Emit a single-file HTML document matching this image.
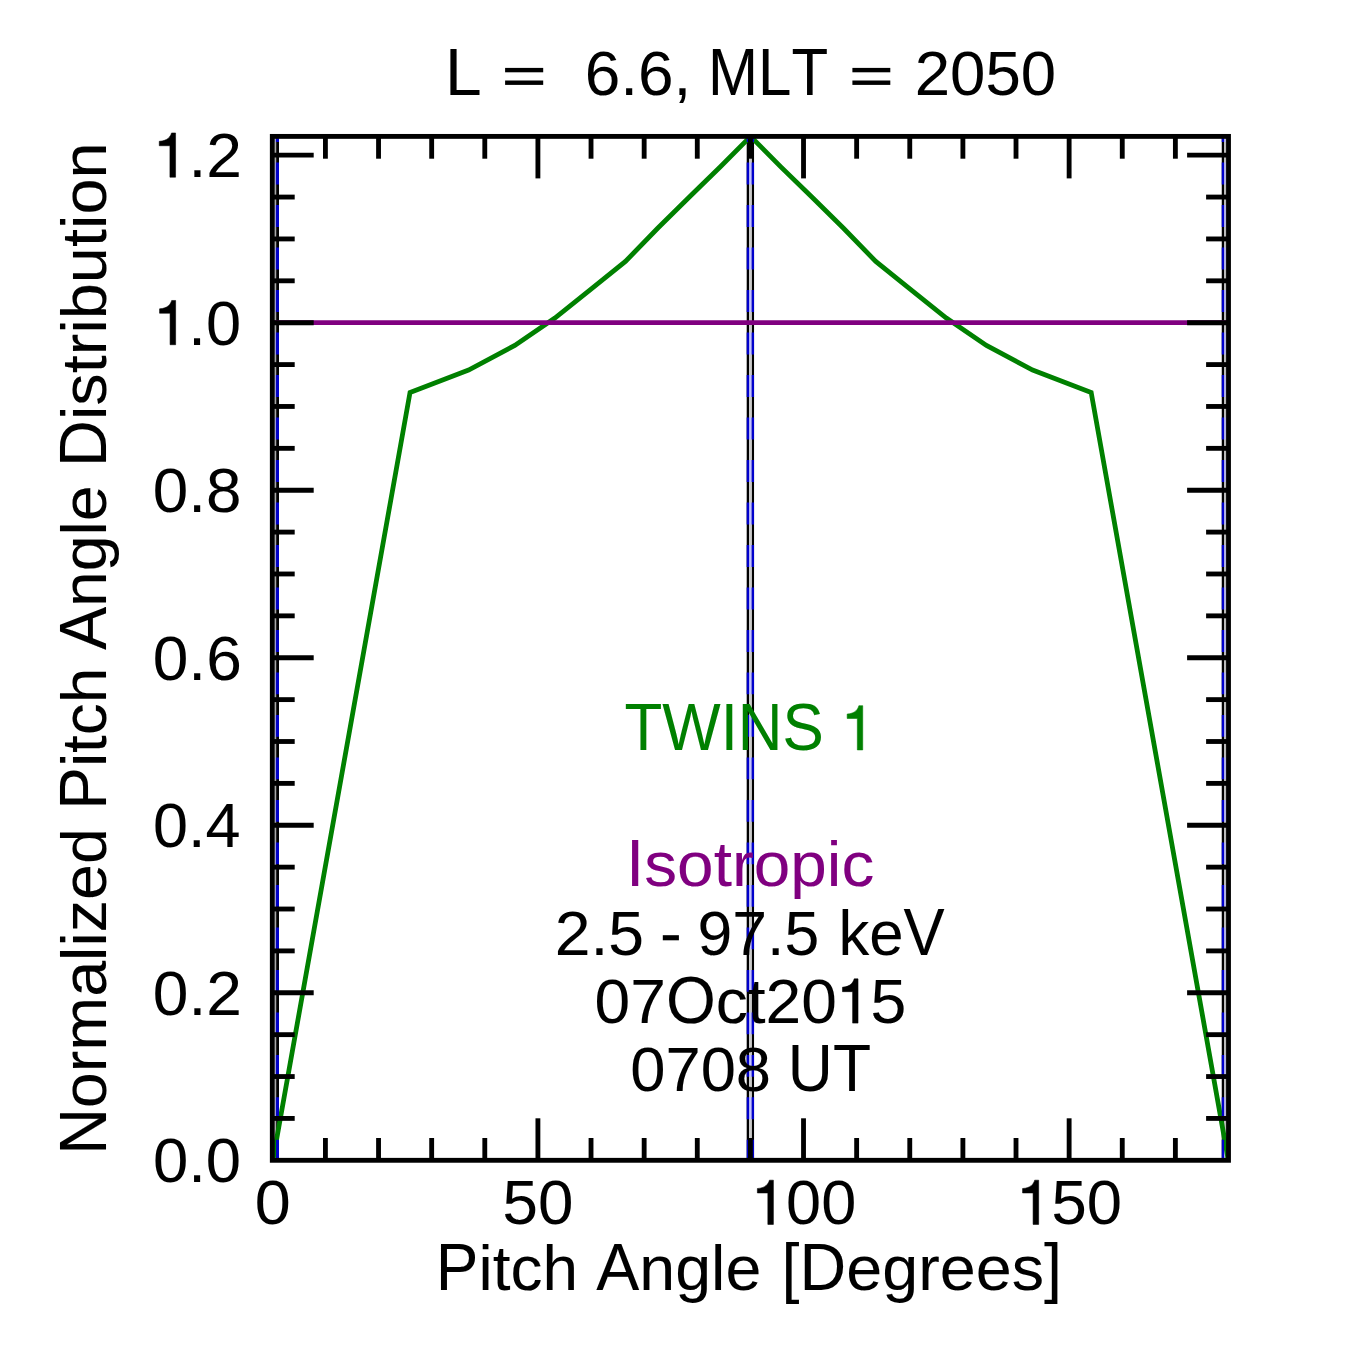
<!DOCTYPE html>
<html><head><meta charset="utf-8"><style>
html,body{margin:0;padding:0;background:#fff;overflow:hidden;width:1365px;height:1365px;}
svg{display:block;}
text{font-family:"Liberation Sans",sans-serif;stroke-width:0.55px;}
</style></head><body>
<svg width="1365" height="1365" viewBox="0 0 1365 1365">
<rect width="1365" height="1365" fill="#fff"/>
<defs><clipPath id="c"><rect x="272.3" y="136.4" width="956.2" height="1023.9"/></clipPath></defs>
<g clip-path="url(#c)">
<line x1="277.55" y1="1160.3" x2="277.55" y2="136.4" stroke="#000" stroke-width="2.9"/>
<line x1="747.9" y1="1160.3" x2="747.9" y2="136.4" stroke="#000" stroke-width="2.4"/>
<line x1="752.85" y1="1160.3" x2="752.85" y2="136.4" stroke="#000" stroke-width="2.4"/>
<line x1="1222.9" y1="1160.3" x2="1222.9" y2="136.4" stroke="#000" stroke-width="2.3"/>
<rect x="749.1" y="136.4" width="2.55" height="1023.9" fill="#cacaca"/>
<line x1="750.375" y1="120.1" x2="750.375" y2="1160.3" stroke="#c4c4ff" stroke-width="2.55" stroke-dasharray="21.9 20.59"/>
<rect x="274.75" y="136.4" width="1.35" height="1023.9" fill="#a8a8a8"/>
<line x1="275.425" y1="120.1" x2="275.425" y2="1160.3" stroke="#9c9cd8" stroke-width="1.35" stroke-dasharray="21.9 20.59"/>
<rect x="1224.05" y="136.4" width="2.0" height="1023.9" fill="#b8b8b8"/>
<line x1="1225.05" y1="120.1" x2="1225.05" y2="1160.3" stroke="#b4b4e4" stroke-width="2.0" stroke-dasharray="21.9 20.59"/>
<polyline points="272.85,1160.30 410.03,392.39 468.57,370.11 514.77,345.48 554.88,318.01 591.35,288.78 625.44,261.47 657.93,227.97 689.36,196.98 720.13,167.07 750.60,136.40 781.07,167.07 811.84,196.98 843.27,227.97 875.76,261.47 909.85,288.78 946.32,318.01 986.43,345.48 1032.63,370.11 1091.17,392.39 1228.35,1160.30" fill="none" stroke="#008000" stroke-width="4.8" stroke-linejoin="miter"/>
<line x1="272.3" y1="322.70" x2="1228.5" y2="322.70" stroke="#800080" stroke-width="4.8"/>
<line x1="277.55" y1="120.1" x2="277.55" y2="1160.3" stroke="#0000cc" stroke-width="2.9" stroke-dasharray="21.9 20.59"/>
<line x1="747.9" y1="120.1" x2="747.9" y2="1160.3" stroke="#0000cc" stroke-width="2.4" stroke-dasharray="21.9 20.59"/>
<line x1="752.85" y1="120.1" x2="752.85" y2="1160.3" stroke="#0000cc" stroke-width="2.4" stroke-dasharray="21.9 20.59"/>
<line x1="1222.9" y1="120.1" x2="1222.9" y2="1160.3" stroke="#0000cc" stroke-width="2.3" stroke-dasharray="21.9 20.59"/>
</g>
<rect x="272.3" y="136.4" width="956.2" height="1023.9" fill="none" stroke="#000" stroke-width="4.85"/>
<line x1="325.42" y1="1160.3" x2="325.42" y2="1138.0" stroke="#000" stroke-width="4.85"/>
<line x1="325.42" y1="136.4" x2="325.42" y2="158.70000000000002" stroke="#000" stroke-width="4.85"/>
<line x1="378.54" y1="1160.3" x2="378.54" y2="1138.0" stroke="#000" stroke-width="4.85"/>
<line x1="378.54" y1="136.4" x2="378.54" y2="158.70000000000002" stroke="#000" stroke-width="4.85"/>
<line x1="431.67" y1="1160.3" x2="431.67" y2="1138.0" stroke="#000" stroke-width="4.85"/>
<line x1="431.67" y1="136.4" x2="431.67" y2="158.70000000000002" stroke="#000" stroke-width="4.85"/>
<line x1="484.79" y1="1160.3" x2="484.79" y2="1138.0" stroke="#000" stroke-width="4.85"/>
<line x1="484.79" y1="136.4" x2="484.79" y2="158.70000000000002" stroke="#000" stroke-width="4.85"/>
<line x1="537.91" y1="1160.3" x2="537.91" y2="1118.3" stroke="#000" stroke-width="4.85"/>
<line x1="537.91" y1="136.4" x2="537.91" y2="178.4" stroke="#000" stroke-width="4.85"/>
<line x1="591.03" y1="1160.3" x2="591.03" y2="1138.0" stroke="#000" stroke-width="4.85"/>
<line x1="591.03" y1="136.4" x2="591.03" y2="158.70000000000002" stroke="#000" stroke-width="4.85"/>
<line x1="644.16" y1="1160.3" x2="644.16" y2="1138.0" stroke="#000" stroke-width="4.85"/>
<line x1="644.16" y1="136.4" x2="644.16" y2="158.70000000000002" stroke="#000" stroke-width="4.85"/>
<line x1="697.28" y1="1160.3" x2="697.28" y2="1138.0" stroke="#000" stroke-width="4.85"/>
<line x1="697.28" y1="136.4" x2="697.28" y2="158.70000000000002" stroke="#000" stroke-width="4.85"/>
<line x1="750.40" y1="1160.3" x2="750.40" y2="1138.0" stroke="#000" stroke-width="4.85"/>
<line x1="750.40" y1="136.4" x2="750.40" y2="158.70000000000002" stroke="#000" stroke-width="4.85"/>
<line x1="803.52" y1="1160.3" x2="803.52" y2="1118.3" stroke="#000" stroke-width="4.85"/>
<line x1="803.52" y1="136.4" x2="803.52" y2="178.4" stroke="#000" stroke-width="4.85"/>
<line x1="856.64" y1="1160.3" x2="856.64" y2="1138.0" stroke="#000" stroke-width="4.85"/>
<line x1="856.64" y1="136.4" x2="856.64" y2="158.70000000000002" stroke="#000" stroke-width="4.85"/>
<line x1="909.77" y1="1160.3" x2="909.77" y2="1138.0" stroke="#000" stroke-width="4.85"/>
<line x1="909.77" y1="136.4" x2="909.77" y2="158.70000000000002" stroke="#000" stroke-width="4.85"/>
<line x1="962.89" y1="1160.3" x2="962.89" y2="1138.0" stroke="#000" stroke-width="4.85"/>
<line x1="962.89" y1="136.4" x2="962.89" y2="158.70000000000002" stroke="#000" stroke-width="4.85"/>
<line x1="1016.01" y1="1160.3" x2="1016.01" y2="1138.0" stroke="#000" stroke-width="4.85"/>
<line x1="1016.01" y1="136.4" x2="1016.01" y2="158.70000000000002" stroke="#000" stroke-width="4.85"/>
<line x1="1069.13" y1="1160.3" x2="1069.13" y2="1118.3" stroke="#000" stroke-width="4.85"/>
<line x1="1069.13" y1="136.4" x2="1069.13" y2="178.4" stroke="#000" stroke-width="4.85"/>
<line x1="1122.26" y1="1160.3" x2="1122.26" y2="1138.0" stroke="#000" stroke-width="4.85"/>
<line x1="1122.26" y1="136.4" x2="1122.26" y2="158.70000000000002" stroke="#000" stroke-width="4.85"/>
<line x1="1175.38" y1="1160.3" x2="1175.38" y2="1138.0" stroke="#000" stroke-width="4.85"/>
<line x1="1175.38" y1="136.4" x2="1175.38" y2="158.70000000000002" stroke="#000" stroke-width="4.85"/>
<line x1="272.3" y1="1118.42" x2="294.7" y2="1118.42" stroke="#000" stroke-width="4.85"/>
<line x1="1228.5" y1="1118.42" x2="1206.1" y2="1118.42" stroke="#000" stroke-width="4.85"/>
<line x1="272.3" y1="1076.54" x2="294.7" y2="1076.54" stroke="#000" stroke-width="4.85"/>
<line x1="1228.5" y1="1076.54" x2="1206.1" y2="1076.54" stroke="#000" stroke-width="4.85"/>
<line x1="272.3" y1="1034.66" x2="294.7" y2="1034.66" stroke="#000" stroke-width="4.85"/>
<line x1="1228.5" y1="1034.66" x2="1206.1" y2="1034.66" stroke="#000" stroke-width="4.85"/>
<line x1="272.3" y1="992.78" x2="313.7" y2="992.78" stroke="#000" stroke-width="4.85"/>
<line x1="1228.5" y1="992.78" x2="1187.1" y2="992.78" stroke="#000" stroke-width="4.85"/>
<line x1="272.3" y1="950.90" x2="294.7" y2="950.90" stroke="#000" stroke-width="4.85"/>
<line x1="1228.5" y1="950.90" x2="1206.1" y2="950.90" stroke="#000" stroke-width="4.85"/>
<line x1="272.3" y1="909.02" x2="294.7" y2="909.02" stroke="#000" stroke-width="4.85"/>
<line x1="1228.5" y1="909.02" x2="1206.1" y2="909.02" stroke="#000" stroke-width="4.85"/>
<line x1="272.3" y1="867.14" x2="294.7" y2="867.14" stroke="#000" stroke-width="4.85"/>
<line x1="1228.5" y1="867.14" x2="1206.1" y2="867.14" stroke="#000" stroke-width="4.85"/>
<line x1="272.3" y1="825.26" x2="313.7" y2="825.26" stroke="#000" stroke-width="4.85"/>
<line x1="1228.5" y1="825.26" x2="1187.1" y2="825.26" stroke="#000" stroke-width="4.85"/>
<line x1="272.3" y1="783.38" x2="294.7" y2="783.38" stroke="#000" stroke-width="4.85"/>
<line x1="1228.5" y1="783.38" x2="1206.1" y2="783.38" stroke="#000" stroke-width="4.85"/>
<line x1="272.3" y1="741.50" x2="294.7" y2="741.50" stroke="#000" stroke-width="4.85"/>
<line x1="1228.5" y1="741.50" x2="1206.1" y2="741.50" stroke="#000" stroke-width="4.85"/>
<line x1="272.3" y1="699.62" x2="294.7" y2="699.62" stroke="#000" stroke-width="4.85"/>
<line x1="1228.5" y1="699.62" x2="1206.1" y2="699.62" stroke="#000" stroke-width="4.85"/>
<line x1="272.3" y1="657.74" x2="313.7" y2="657.74" stroke="#000" stroke-width="4.85"/>
<line x1="1228.5" y1="657.74" x2="1187.1" y2="657.74" stroke="#000" stroke-width="4.85"/>
<line x1="272.3" y1="615.86" x2="294.7" y2="615.86" stroke="#000" stroke-width="4.85"/>
<line x1="1228.5" y1="615.86" x2="1206.1" y2="615.86" stroke="#000" stroke-width="4.85"/>
<line x1="272.3" y1="573.98" x2="294.7" y2="573.98" stroke="#000" stroke-width="4.85"/>
<line x1="1228.5" y1="573.98" x2="1206.1" y2="573.98" stroke="#000" stroke-width="4.85"/>
<line x1="272.3" y1="532.10" x2="294.7" y2="532.10" stroke="#000" stroke-width="4.85"/>
<line x1="1228.5" y1="532.10" x2="1206.1" y2="532.10" stroke="#000" stroke-width="4.85"/>
<line x1="272.3" y1="490.22" x2="313.7" y2="490.22" stroke="#000" stroke-width="4.85"/>
<line x1="1228.5" y1="490.22" x2="1187.1" y2="490.22" stroke="#000" stroke-width="4.85"/>
<line x1="272.3" y1="448.34" x2="294.7" y2="448.34" stroke="#000" stroke-width="4.85"/>
<line x1="1228.5" y1="448.34" x2="1206.1" y2="448.34" stroke="#000" stroke-width="4.85"/>
<line x1="272.3" y1="406.46" x2="294.7" y2="406.46" stroke="#000" stroke-width="4.85"/>
<line x1="1228.5" y1="406.46" x2="1206.1" y2="406.46" stroke="#000" stroke-width="4.85"/>
<line x1="272.3" y1="364.58" x2="294.7" y2="364.58" stroke="#000" stroke-width="4.85"/>
<line x1="1228.5" y1="364.58" x2="1206.1" y2="364.58" stroke="#000" stroke-width="4.85"/>
<line x1="272.3" y1="322.70" x2="313.7" y2="322.70" stroke="#000" stroke-width="4.85"/>
<line x1="1228.5" y1="322.70" x2="1187.1" y2="322.70" stroke="#000" stroke-width="4.85"/>
<line x1="272.3" y1="280.82" x2="294.7" y2="280.82" stroke="#000" stroke-width="4.85"/>
<line x1="1228.5" y1="280.82" x2="1206.1" y2="280.82" stroke="#000" stroke-width="4.85"/>
<line x1="272.3" y1="238.94" x2="294.7" y2="238.94" stroke="#000" stroke-width="4.85"/>
<line x1="1228.5" y1="238.94" x2="1206.1" y2="238.94" stroke="#000" stroke-width="4.85"/>
<line x1="272.3" y1="197.06" x2="294.7" y2="197.06" stroke="#000" stroke-width="4.85"/>
<line x1="1228.5" y1="197.06" x2="1206.1" y2="197.06" stroke="#000" stroke-width="4.85"/>
<line x1="272.3" y1="155.18" x2="313.7" y2="155.18" stroke="#000" stroke-width="4.85"/>
<line x1="1228.5" y1="155.18" x2="1187.1" y2="155.18" stroke="#000" stroke-width="4.85"/>
<text transform="translate(445.12,95.02) scale(0.099662,0.1)" font-size="662.0" fill="#000" stroke="#000" stroke-width="5.50">L</text>
<rect x="505.1" y="67.9" width="38.1" height="4.4"/><rect x="505.1" y="80.5" width="38.1" height="4.4"/>
<text transform="translate(584.63,95.02) scale(0.101002,0.1)" font-size="633.0" fill="#000" stroke="#000" stroke-width="5.50">6</text>
<text transform="translate(620.19,95.02) scale(0.101002,0.1)" font-size="633.0" fill="#000" stroke="#000" stroke-width="5.50">.</text>
<text transform="translate(637.95,95.02) scale(0.101002,0.1)" font-size="633.0" fill="#000" stroke="#000" stroke-width="5.50">6</text>
<text transform="translate(673.51,95.02) scale(0.101002,0.1)" font-size="633.0" fill="#000" stroke="#000" stroke-width="5.50">,</text>
<text transform="translate(708.05,95.02) scale(0.090673,0.1)" font-size="662.0" fill="#000" stroke="#000" stroke-width="5.50">M</text>
<text transform="translate(758.05,95.02) scale(0.090673,0.1)" font-size="662.0" fill="#000" stroke="#000" stroke-width="5.50">L</text>
<text transform="translate(791.44,95.02) scale(0.090673,0.1)" font-size="662.0" fill="#000" stroke="#000" stroke-width="5.50">T</text>
<rect x="852.4" y="67.9" width="37.9" height="4.4"/><rect x="852.4" y="80.5" width="37.9" height="4.4"/>
<text transform="translate(914.78,95.02) scale(0.100361,0.1)" font-size="633.0" fill="#000" stroke="#000" stroke-width="5.50">2</text>
<text transform="translate(950.11,95.02) scale(0.100361,0.1)" font-size="633.0" fill="#000" stroke="#000" stroke-width="5.50">0</text>
<text transform="translate(985.44,95.02) scale(0.100361,0.1)" font-size="633.0" fill="#000" stroke="#000" stroke-width="5.50">5</text>
<text transform="translate(1020.77,95.02) scale(0.100361,0.1)" font-size="633.0" fill="#000" stroke="#000" stroke-width="5.50">0</text>
<text transform="translate(435.87,1289.62) scale(0.096557,0.1)" font-size="662.0" fill="#000" stroke="#000" stroke-width="5.50">P</text>
<text transform="translate(478.51,1289.62) scale(0.101853,0.1)" font-size="627.6" fill="#000" stroke="#000" stroke-width="5.50">i</text>
<text transform="translate(492.71,1289.62) scale(0.101853,0.1)" font-size="627.6" fill="#000" stroke="#000" stroke-width="5.50">t</text>
<text transform="translate(510.47,1289.62) scale(0.101853,0.1)" font-size="627.6" fill="#000" stroke="#000" stroke-width="5.50">c</text>
<text transform="translate(542.43,1289.62) scale(0.101853,0.1)" font-size="627.6" fill="#000" stroke="#000" stroke-width="5.50">h</text>
<text transform="translate(596.15,1289.62) scale(0.097538,0.1)" font-size="662.0" fill="#000" stroke="#000" stroke-width="5.50">A</text>
<text transform="translate(639.22,1289.62) scale(0.102888,0.1)" font-size="627.6" fill="#000" stroke="#000" stroke-width="5.50">n</text>
<text transform="translate(675.13,1289.62) scale(0.102888,0.1)" font-size="627.6" fill="#000" stroke="#000" stroke-width="5.50">g</text>
<text transform="translate(711.04,1289.62) scale(0.102888,0.1)" font-size="627.6" fill="#000" stroke="#000" stroke-width="5.50">l</text>
<text transform="translate(725.38,1289.62) scale(0.102888,0.1)" font-size="627.6" fill="#000" stroke="#000" stroke-width="5.50">e</text>
<text transform="translate(781.56,1289.62) scale(0.097724,0.1)" font-size="662.0" fill="#000" stroke="#000" stroke-width="5.50">[</text>
<text transform="translate(799.54,1289.62) scale(0.097724,0.1)" font-size="662.0" fill="#000" stroke="#000" stroke-width="5.50">D</text>
<text transform="translate(846.26,1289.62) scale(0.103084,0.1)" font-size="627.6" fill="#000" stroke="#000" stroke-width="5.50">e</text>
<text transform="translate(882.24,1289.62) scale(0.103084,0.1)" font-size="627.6" fill="#000" stroke="#000" stroke-width="5.50">g</text>
<text transform="translate(918.21,1289.62) scale(0.103084,0.1)" font-size="627.6" fill="#000" stroke="#000" stroke-width="5.50">r</text>
<text transform="translate(939.76,1289.62) scale(0.103084,0.1)" font-size="627.6" fill="#000" stroke="#000" stroke-width="5.50">e</text>
<text transform="translate(975.74,1289.62) scale(0.103084,0.1)" font-size="627.6" fill="#000" stroke="#000" stroke-width="5.50">e</text>
<text transform="translate(1011.72,1289.62) scale(0.103084,0.1)" font-size="627.6" fill="#000" stroke="#000" stroke-width="5.50">s</text>
<text transform="translate(1044.06,1289.62) scale(0.097724,0.1)" font-size="662.0" fill="#000" stroke="#000" stroke-width="5.50">]</text>
<g transform="rotate(-90)"><text transform="translate(-1154.83,106.32) scale(0.097621,0.1)" font-size="662.0" fill="#000" stroke="#000" stroke-width="5.50">N</text>
<text transform="translate(-1108.16,106.32) scale(0.102975,0.1)" font-size="627.6" fill="#000" stroke="#000" stroke-width="5.50">o</text>
<text transform="translate(-1072.21,106.32) scale(0.102975,0.1)" font-size="627.6" fill="#000" stroke="#000" stroke-width="5.50">r</text>
<text transform="translate(-1050.69,106.32) scale(0.102975,0.1)" font-size="627.6" fill="#000" stroke="#000" stroke-width="5.50">m</text>
<text transform="translate(-996.86,106.32) scale(0.102975,0.1)" font-size="627.6" fill="#000" stroke="#000" stroke-width="5.50">a</text>
<text transform="translate(-960.92,106.32) scale(0.102975,0.1)" font-size="627.6" fill="#000" stroke="#000" stroke-width="5.50">l</text>
<text transform="translate(-946.56,106.32) scale(0.102975,0.1)" font-size="627.6" fill="#000" stroke="#000" stroke-width="5.50">i</text>
<text transform="translate(-932.20,106.32) scale(0.102975,0.1)" font-size="627.6" fill="#000" stroke="#000" stroke-width="5.50">z</text>
<text transform="translate(-899.89,106.32) scale(0.102975,0.1)" font-size="627.6" fill="#000" stroke="#000" stroke-width="5.50">e</text>
<text transform="translate(-863.95,106.32) scale(0.102975,0.1)" font-size="627.6" fill="#000" stroke="#000" stroke-width="5.50">d</text>
<text transform="translate(-809.77,106.32) scale(0.096586,0.1)" font-size="662.0" fill="#000" stroke="#000" stroke-width="5.50">P</text>
<text transform="translate(-767.12,106.32) scale(0.101884,0.1)" font-size="627.6" fill="#000" stroke="#000" stroke-width="5.50">i</text>
<text transform="translate(-752.92,106.32) scale(0.101884,0.1)" font-size="627.6" fill="#000" stroke="#000" stroke-width="5.50">t</text>
<text transform="translate(-735.15,106.32) scale(0.101884,0.1)" font-size="627.6" fill="#000" stroke="#000" stroke-width="5.50">c</text>
<text transform="translate(-703.18,106.32) scale(0.101884,0.1)" font-size="627.6" fill="#000" stroke="#000" stroke-width="5.50">h</text>
<text transform="translate(-649.85,106.32) scale(0.097056,0.1)" font-size="662.0" fill="#000" stroke="#000" stroke-width="5.50">A</text>
<text transform="translate(-607.00,106.32) scale(0.102380,0.1)" font-size="627.6" fill="#000" stroke="#000" stroke-width="5.50">n</text>
<text transform="translate(-571.26,106.32) scale(0.102380,0.1)" font-size="627.6" fill="#000" stroke="#000" stroke-width="5.50">g</text>
<text transform="translate(-535.53,106.32) scale(0.102380,0.1)" font-size="627.6" fill="#000" stroke="#000" stroke-width="5.50">l</text>
<text transform="translate(-521.25,106.32) scale(0.102380,0.1)" font-size="627.6" fill="#000" stroke="#000" stroke-width="5.50">e</text>
<text transform="translate(-466.95,106.32) scale(0.097993,0.1)" font-size="662.0" fill="#000" stroke="#000" stroke-width="5.50">D</text>
<text transform="translate(-420.10,106.32) scale(0.103368,0.1)" font-size="627.6" fill="#000" stroke="#000" stroke-width="5.50">i</text>
<text transform="translate(-405.69,106.32) scale(0.103368,0.1)" font-size="627.6" fill="#000" stroke="#000" stroke-width="5.50">s</text>
<text transform="translate(-373.25,106.32) scale(0.103368,0.1)" font-size="627.6" fill="#000" stroke="#000" stroke-width="5.50">t</text>
<text transform="translate(-355.23,106.32) scale(0.103368,0.1)" font-size="627.6" fill="#000" stroke="#000" stroke-width="5.50">r</text>
<text transform="translate(-333.62,106.32) scale(0.103368,0.1)" font-size="627.6" fill="#000" stroke="#000" stroke-width="5.50">i</text>
<text transform="translate(-319.21,106.32) scale(0.103368,0.1)" font-size="627.6" fill="#000" stroke="#000" stroke-width="5.50">b</text>
<text transform="translate(-283.13,106.32) scale(0.103368,0.1)" font-size="627.6" fill="#000" stroke="#000" stroke-width="5.50">u</text>
<text transform="translate(-247.05,106.32) scale(0.103368,0.1)" font-size="627.6" fill="#000" stroke="#000" stroke-width="5.50">t</text>
<text transform="translate(-229.03,106.32) scale(0.103368,0.1)" font-size="627.6" fill="#000" stroke="#000" stroke-width="5.50">i</text>
<text transform="translate(-214.62,106.32) scale(0.103368,0.1)" font-size="627.6" fill="#000" stroke="#000" stroke-width="5.50">o</text>
<text transform="translate(-178.54,106.32) scale(0.103368,0.1)" font-size="627.6" fill="#000" stroke="#000" stroke-width="5.50">n</text></g>
<text transform="translate(624.38,749.93) scale(0.093533,0.1)" font-size="662.0" fill="#008000" stroke="#008000" stroke-width="5.50">T</text>
<text transform="translate(662.21,749.93) scale(0.093533,0.1)" font-size="662.0" fill="#008000" stroke="#008000" stroke-width="5.50">W</text>
<text transform="translate(720.65,749.93) scale(0.093533,0.1)" font-size="662.0" fill="#008000" stroke="#008000" stroke-width="5.50">I</text>
<text transform="translate(737.85,749.93) scale(0.093533,0.1)" font-size="662.0" fill="#008000" stroke="#008000" stroke-width="5.50">N</text>
<text transform="translate(782.57,749.93) scale(0.093533,0.1)" font-size="662.0" fill="#008000" stroke="#008000" stroke-width="5.50">S</text>
<path transform="translate(840.99,749.93) scale(0.06122,-0.06330)" d="M355 0L355 699L292 699C275 640 230 575 101 567L101 497L267 497L267 0Z" fill="#008000" stroke="#008000" stroke-width="8.984"/>
<text transform="translate(626.01,886.43) scale(0.099222,0.1)" font-size="662.0" fill="#800080" stroke="#800080" stroke-width="5.50">I</text>
<text transform="translate(644.26,886.43) scale(0.104665,0.1)" font-size="627.6" fill="#800080" stroke="#800080" stroke-width="5.50">s</text>
<text transform="translate(677.11,886.43) scale(0.104665,0.1)" font-size="627.6" fill="#800080" stroke="#800080" stroke-width="5.50">o</text>
<text transform="translate(713.64,886.43) scale(0.104665,0.1)" font-size="627.6" fill="#800080" stroke="#800080" stroke-width="5.50">t</text>
<text transform="translate(731.89,886.43) scale(0.104665,0.1)" font-size="627.6" fill="#800080" stroke="#800080" stroke-width="5.50">r</text>
<text transform="translate(753.76,886.43) scale(0.104665,0.1)" font-size="627.6" fill="#800080" stroke="#800080" stroke-width="5.50">o</text>
<text transform="translate(790.29,886.43) scale(0.104665,0.1)" font-size="627.6" fill="#800080" stroke="#800080" stroke-width="5.50">p</text>
<text transform="translate(826.82,886.43) scale(0.104665,0.1)" font-size="627.6" fill="#800080" stroke="#800080" stroke-width="5.50">i</text>
<text transform="translate(841.41,886.43) scale(0.104665,0.1)" font-size="627.6" fill="#800080" stroke="#800080" stroke-width="5.50">c</text>
<text transform="translate(554.64,954.93) scale(0.101578,0.1)" font-size="633.0" fill="#000" stroke="#000" stroke-width="5.50">2</text>
<text transform="translate(590.40,954.93) scale(0.101578,0.1)" font-size="633.0" fill="#000" stroke="#000" stroke-width="5.50">.</text>
<text transform="translate(608.27,954.93) scale(0.101578,0.1)" font-size="633.0" fill="#000" stroke="#000" stroke-width="5.50">5</text>
<rect x="662.8" y="935.2" width="16.1" height="5.1"/>
<text transform="translate(697.54,954.93) scale(0.098788,0.1)" font-size="633.0" fill="#000" stroke="#000" stroke-width="5.50">9</text>
<text transform="translate(732.32,954.93) scale(0.098788,0.1)" font-size="633.0" fill="#000" stroke="#000" stroke-width="5.50">7</text>
<text transform="translate(767.10,954.93) scale(0.098788,0.1)" font-size="633.0" fill="#000" stroke="#000" stroke-width="5.50">.</text>
<text transform="translate(784.47,954.93) scale(0.098788,0.1)" font-size="633.0" fill="#000" stroke="#000" stroke-width="5.50">5</text>
<text transform="translate(838.42,954.93) scale(0.098180,0.1)" font-size="627.6" fill="#000" stroke="#000" stroke-width="5.50">k</text>
<text transform="translate(869.23,954.93) scale(0.098180,0.1)" font-size="627.6" fill="#000" stroke="#000" stroke-width="5.50">e</text>
<text transform="translate(903.50,954.93) scale(0.093075,0.1)" font-size="662.0" fill="#000" stroke="#000" stroke-width="5.50">V</text>
<text transform="translate(594.57,1023.12) scale(0.101282,0.1)" font-size="633.0" fill="#000" stroke="#000" stroke-width="5.50">0</text>
<text transform="translate(630.23,1023.12) scale(0.101282,0.1)" font-size="633.0" fill="#000" stroke="#000" stroke-width="5.50">7</text>
<text transform="translate(665.88,1023.12) scale(0.096845,0.1)" font-size="662.0" fill="#000" stroke="#000" stroke-width="5.50">O</text>
<text transform="translate(715.75,1023.12) scale(0.102157,0.1)" font-size="627.6" fill="#000" stroke="#000" stroke-width="5.50">c</text>
<text transform="translate(747.81,1023.12) scale(0.102157,0.1)" font-size="627.6" fill="#000" stroke="#000" stroke-width="5.50">t</text>
<text transform="translate(765.62,1023.12) scale(0.101282,0.1)" font-size="633.0" fill="#000" stroke="#000" stroke-width="5.50">2</text>
<text transform="translate(801.27,1023.12) scale(0.101282,0.1)" font-size="633.0" fill="#000" stroke="#000" stroke-width="5.50">0</text>
<path transform="translate(836.29,1023.12) scale(0.06122,-0.06330)" d="M355 0L355 699L292 699C275 640 230 575 101 567L101 497L267 497L267 0Z" fill="#000" stroke="#000" stroke-width="8.984"/>
<text transform="translate(870.40,1023.12) scale(0.101793,0.1)" font-size="633.0" fill="#000" stroke="#000" stroke-width="5.50">5</text>
<text transform="translate(630.20,1091.22) scale(0.100041,0.1)" font-size="633.0" fill="#000" stroke="#000" stroke-width="5.50">0</text>
<text transform="translate(665.42,1091.22) scale(0.100041,0.1)" font-size="633.0" fill="#000" stroke="#000" stroke-width="5.50">7</text>
<text transform="translate(700.64,1091.22) scale(0.100041,0.1)" font-size="633.0" fill="#000" stroke="#000" stroke-width="5.50">0</text>
<text transform="translate(735.86,1091.22) scale(0.100041,0.1)" font-size="633.0" fill="#000" stroke="#000" stroke-width="5.50">8</text>
<text transform="translate(787.86,1091.22) scale(0.094280,0.1)" font-size="662.0" fill="#000" stroke="#000" stroke-width="5.50">U</text>
<text transform="translate(832.93,1091.22) scale(0.094280,0.1)" font-size="662.0" fill="#000" stroke="#000" stroke-width="5.50">T</text>
<path transform="translate(152.80,177.20) scale(0.06413,-0.06330)" d="M355 0L355 699L292 699C275 640 230 575 101 567L101 497L267 497L267 0Z" fill="#000" stroke="#000" stroke-width="8.576"/>
<text transform="translate(188.47,177.20) scale(0.101315,0.1)" font-size="633.0" fill="#000" stroke="#000" stroke-width="5.50">.</text>
<text transform="translate(206.28,177.20) scale(0.101315,0.1)" font-size="633.0" fill="#000" stroke="#000" stroke-width="5.50">2</text>
<path transform="translate(153.19,344.72) scale(0.06324,-0.06330)" d="M355 0L355 699L292 699C275 640 230 575 101 567L101 497L267 497L267 0Z" fill="#000" stroke="#000" stroke-width="8.698"/>
<text transform="translate(188.36,344.72) scale(0.099899,0.1)" font-size="633.0" fill="#000" stroke="#000" stroke-width="5.50">.</text>
<text transform="translate(205.93,344.72) scale(0.099899,0.1)" font-size="633.0" fill="#000" stroke="#000" stroke-width="5.50">0</text>
<text transform="translate(152.79,512.24) scale(0.100698,0.1)" font-size="633.0" fill="#000" stroke="#000" stroke-width="5.50">0</text>
<text transform="translate(188.24,512.24) scale(0.100698,0.1)" font-size="633.0" fill="#000" stroke="#000" stroke-width="5.50">.</text>
<text transform="translate(205.94,512.24) scale(0.100698,0.1)" font-size="633.0" fill="#000" stroke="#000" stroke-width="5.50">8</text>
<text transform="translate(152.78,679.76) scale(0.101098,0.1)" font-size="633.0" fill="#000" stroke="#000" stroke-width="5.50">0</text>
<text transform="translate(188.37,679.76) scale(0.101098,0.1)" font-size="633.0" fill="#000" stroke="#000" stroke-width="5.50">.</text>
<text transform="translate(206.15,679.76) scale(0.101098,0.1)" font-size="633.0" fill="#000" stroke="#000" stroke-width="5.50">6</text>
<text transform="translate(152.91,847.28) scale(0.099500,0.1)" font-size="633.0" fill="#000" stroke="#000" stroke-width="5.50">0</text>
<text transform="translate(187.94,847.28) scale(0.099500,0.1)" font-size="633.0" fill="#000" stroke="#000" stroke-width="5.50">.</text>
<text transform="translate(205.44,847.28) scale(0.099500,0.1)" font-size="633.0" fill="#000" stroke="#000" stroke-width="5.50">4</text>
<text transform="translate(152.87,1014.80) scale(0.101227,0.1)" font-size="633.0" fill="#000" stroke="#000" stroke-width="5.50">0</text>
<text transform="translate(188.51,1014.80) scale(0.101227,0.1)" font-size="633.0" fill="#000" stroke="#000" stroke-width="5.50">.</text>
<text transform="translate(206.31,1014.80) scale(0.101227,0.1)" font-size="633.0" fill="#000" stroke="#000" stroke-width="5.50">2</text>
<text transform="translate(152.90,1182.32) scale(0.100240,0.1)" font-size="633.0" fill="#000" stroke="#000" stroke-width="5.50">0</text>
<text transform="translate(188.19,1182.32) scale(0.100240,0.1)" font-size="633.0" fill="#000" stroke="#000" stroke-width="5.50">.</text>
<text transform="translate(205.81,1182.32) scale(0.100240,0.1)" font-size="633.0" fill="#000" stroke="#000" stroke-width="5.50">0</text>
<text transform="translate(254.85,1224.42) scale(0.102283,0.1)" font-size="633.0" fill="#000" stroke="#000" stroke-width="5.50">0</text>
<text transform="translate(502.62,1224.42) scale(0.100685,0.1)" font-size="633.0" fill="#000" stroke="#000" stroke-width="5.50">5</text>
<text transform="translate(538.07,1224.42) scale(0.100685,0.1)" font-size="633.0" fill="#000" stroke="#000" stroke-width="5.50">0</text>
<path transform="translate(751.01,1224.42) scale(0.06304,-0.06330)" d="M355 0L355 699L292 699C275 640 230 575 101 567L101 497L267 497L267 0Z" fill="#000" stroke="#000" stroke-width="8.725"/>
<text transform="translate(786.07,1224.42) scale(0.099589,0.1)" font-size="633.0" fill="#000" stroke="#000" stroke-width="5.50">0</text>
<text transform="translate(821.13,1224.42) scale(0.099589,0.1)" font-size="633.0" fill="#000" stroke="#000" stroke-width="5.50">0</text>
<path transform="translate(1016.17,1224.42) scale(0.06337,-0.06330)" d="M355 0L355 699L292 699C275 640 230 575 101 567L101 497L267 497L267 0Z" fill="#000" stroke="#000" stroke-width="8.680"/>
<text transform="translate(1051.42,1224.42) scale(0.100106,0.1)" font-size="633.0" fill="#000" stroke="#000" stroke-width="5.50">5</text>
<text transform="translate(1086.66,1224.42) scale(0.100106,0.1)" font-size="633.0" fill="#000" stroke="#000" stroke-width="5.50">0</text>
</svg>
</body></html>
